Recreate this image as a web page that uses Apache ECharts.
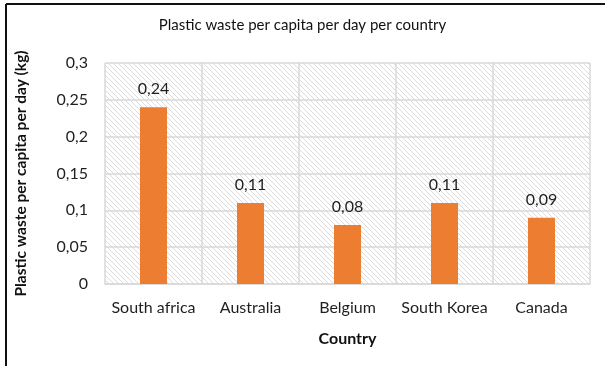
<!DOCTYPE html>
<html>
<head>
<meta charset="utf-8">
<script src="https://cdn.jsdelivr.net/npm/echarts@6/dist/echarts.min.js"></script>
<style>
  html, body { margin: 0; padding: 0; background: #fff; }
  #chart { width: 605px; height: 366px; }
</style>
</head>
<body>
<div id="chart"></div>
<script>
// Plastic waste per capita per day, by country (kg)
const countries = ['South africa', 'Australia', 'Belgium', 'South Korea', 'Canada'];
const wastePerCapita = [0.24, 0.11, 0.08, 0.11, 0.09];
const yTicks = [0, 0.05, 0.1, 0.15, 0.2, 0.25, 0.3];

const fmt = v => String(v).replace('.', ',');

// Diagonal hatch fill for the plot background
function hatchPattern() {
  const c = document.createElement('canvas');
  c.width = 5; c.height = 5;
  const g = c.getContext('2d');
  g.fillStyle = '#ffffff';
  g.fillRect(0, 0, 5, 5);
  g.strokeStyle = '#dcdcdc';
  g.lineWidth = 1;
  g.beginPath();
  g.moveTo(-1, -1); g.lineTo(6, 6);
  g.moveTo(-1, 4); g.lineTo(1, 6);
  g.moveTo(4, -1); g.lineTo(6, 1);
  g.stroke();
  return c;
}

const FONT = 'Lato';
const TEXT = '#1f1f1f';
const chart = echarts.init(document.getElementById('chart'), null, { renderer: 'canvas' });

chart.setOption({
  backgroundColor: '#ffffff',
  animation: false,
  title: {
    text: 'Plastic waste per capita per day per country',
    left: 'center',
    top: 13,
    textStyle: { fontFamily: FONT, fontSize: 15, fontWeight: 'normal', color: '#111' }
  },
  graphic: [
    { type: 'line', shape: { x1: 6, y1: 4, x2: 605, y2: 4 }, style: { stroke: '#111', lineWidth: 2 } },
    { type: 'line', shape: { x1: 6, y1: 4, x2: 6, y2: 366 }, style: { stroke: '#111', lineWidth: 2 } }
  ],
  grid: {
    left: 105, right: 15, top: 63, bottom: 82,
    show: true,
    borderWidth: 0,
    backgroundColor: { image: hatchPattern(), repeat: 'repeat' }
  },
  xAxis: {
    type: 'category',
    data: countries,
    name: 'Country',
    nameLocation: 'middle',
    nameGap: 47,
    nameTextStyle: { fontFamily: FONT, fontSize: 16, fontWeight: 'bold', color: '#111' },
    axisLine: { lineStyle: { color: '#d9d9d9', width: 1.5 } },
    axisTick: { show: false },
    axisLabel: { interval: 0, fontFamily: FONT, fontSize: 16, color: TEXT, margin: 16 },
    splitLine: { show: true, interval: 0, lineStyle: { color: '#d9d9d9', width: 1.5 } }
  },
  yAxis: {
    type: 'value',
    min: yTicks[0],
    max: yTicks[yTicks.length - 1],
    interval: 0.05,
    name: 'Plastic waste per capita per day (kg)',
    nameLocation: 'middle',
    nameGap: 76,
    nameTextStyle: { fontFamily: FONT, fontSize: 15.5, fontWeight: 'bold', color: '#111' },
    axisLine: { show: false },
    axisTick: { show: false },
    axisLabel: {
      fontFamily: FONT, fontSize: 16, color: TEXT, margin: 17,
      formatter: v => fmt(+v.toFixed(2))
    },
    splitLine: { show: true, lineStyle: { color: '#d9d9d9', width: 1.5 } }
  },
  series: [{
    type: 'bar',
    data: wastePerCapita,
    barWidth: 27,
    itemStyle: { color: '#ED7D31' },
    label: {
      show: true,
      position: 'top',
      distance: 10,
      fontFamily: FONT, fontSize: 16, color: TEXT,
      formatter: p => fmt(p.value)
    }
  }]
});
</script>
</body>
</html>
